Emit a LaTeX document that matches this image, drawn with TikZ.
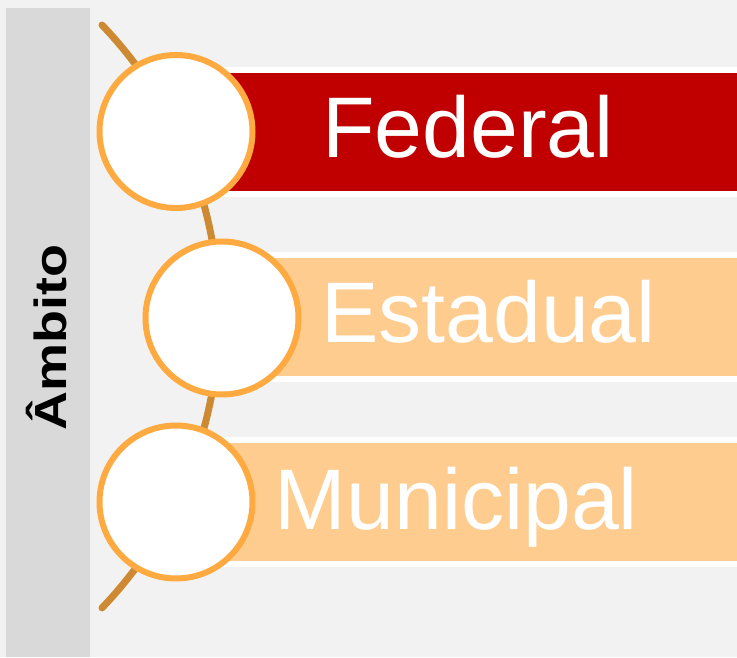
\documentclass[tikz,border=0pt]{standalone}
\usepackage{fontspec}
\setmainfont{Liberation Sans}
\definecolor{bgfill}{HTML}{F2F2F2}
\definecolor{sidegray}{HTML}{D9D9D9}
\definecolor{fedred}{HTML}{C00000}
\definecolor{lightorange}{HTML}{FFCC8F}
\definecolor{ringorange}{HTML}{FFAA40}
\definecolor{arcbrown}{HTML}{CD8A32}
\tikzset{
	ring/.style={circle,fill=white,draw=ringorange,line width=6pt,inner sep=0pt,minimum size=153pt},
	bar/.style={rectangle,draw=white,line width=6pt,inner sep=0pt,minimum width=570pt,minimum height=123.5pt,anchor=west},
	labl/.style={text=white,font=\fontsize{86}{90}\selectfont,anchor=base,inner sep=0pt},
	sidelabl/.style={rotate=90,anchor=base,inner sep=0pt,font=\bfseries\fontsize{45}{50}\selectfont},
	backbone/.style={line width=7pt,draw=arcbrown,line cap=round},
}
\begin{document}
\begin{tikzpicture}[x=1pt,y=1pt]
\useasboundingbox (0,0) rectangle (737,657);
% SFONDO
\fill[bgfill] (0,0) rectangle (737,657);
\fill[sidegray] (6,0) rectangle (90,649);
\node[sidelabl] (ambito) at (66,319.5) {\scalebox{1.2}[1]{Âmbito}};
% ARCO
\coordinate (arcTop) at (102,632);
\draw[backbone] (arcTop) arc[start angle=43.74, end angle=-43.74, radius=421.6];
% BARRE
\node[bar,fill=fedred] (federalBar) at (176,525) {};
\node[bar,fill=lightorange] (estadualBar) at (222,340) {};
\node[bar,fill=lightorange] (municipalBar) at (176,155) {};
% CERCHI
\node[ring] (federal) at (176,525.5) {};
\node[ring] (estadual) at (222,339) {};
\node[ring] (municipal) at (176,155) {};
% TESTI
\node[labl] (federalTxt) at (468,499.7) {Federal};
\node[labl] (estadualTxt) at (488.5,314.3) {Estadual};
\node[labl] (municipalTxt) at (456.5,128) {Municipal};
\end{tikzpicture}
\end{document}
